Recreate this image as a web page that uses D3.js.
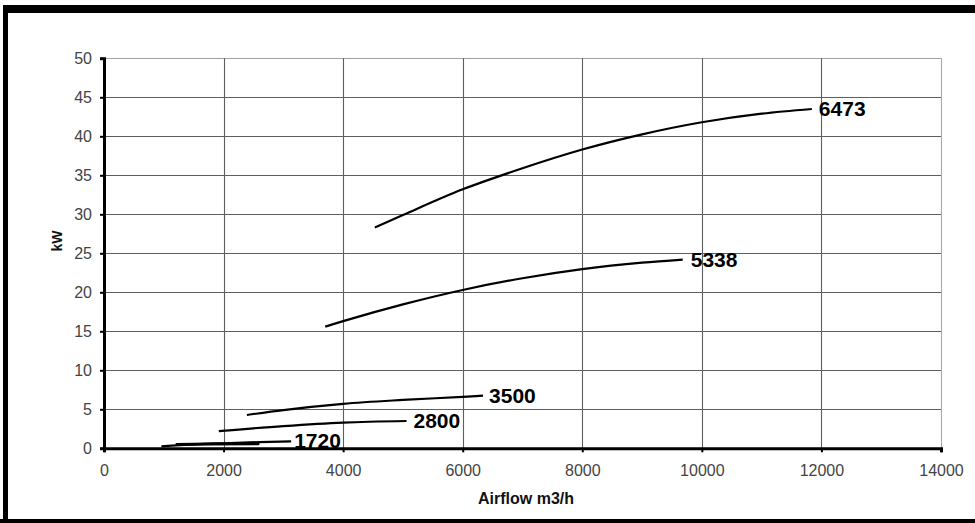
<!DOCTYPE html>
<html>
<head>
<meta charset="utf-8">
<script src="https://cdn.jsdelivr.net/npm/d3@7"></script>
<style>
  html, body { margin: 0; padding: 0; background: #fff; }
  svg { display: block; }
</style>
</head>
<body>
<svg id="chart" width="975" height="523"></svg>
<script>
// ---- data ----
const xTicks = [0, 2000, 4000, 6000, 8000, 10000, 12000, 14000];
const yTicks = [0, 5, 10, 15, 20, 25, 30, 35, 40, 45, 50];
const seriesNames = ["6473", "5338", "3500", "2800", "1720", ""];
const s6473x = [4530, 5000, 6000, 7000, 8000, 9000, 10000, 11000, 11840];
const s6473y = [28.3, 29.9, 33.2, 35.9, 38.3, 40.25, 41.8, 42.9, 43.5];
const s5338x = [3700, 4000, 5000, 6000, 7000, 8000, 9000, 9680];
const s5338y = [15.6, 16.3, 18.45, 20.3, 21.8, 22.97, 23.8, 24.2];
const s3500x = [2390, 3000, 4000, 5000, 6000, 6340];
const s3500y = [4.27, 4.9, 5.7, 6.2, 6.6, 6.75];
const s2800x = [1920, 3000, 4000, 5060];
const s2800y = [2.2, 2.85, 3.3, 3.5];
const s1720x = [960, 1500, 2000, 2600, 3130];
const s1720y = [0.25, 0.5, 0.65, 0.8, 0.9];
const sLowx = [1200, 1800, 2600];
const sLowy = [0.5, 0.55, 0.6];
const xLabel = "Airflow m3/h";
const yLabel = "kW";

const seriesX = [s6473x, s5338x, s3500x, s2800x, s1720x, sLowx];
const seriesY = [s6473y, s5338y, s3500y, s2800y, s1720y, sLowy];
const labelGap = [7, 8, 6, 7, 3, 0];

// ---- layout ----
const svg = d3.select("#chart");
const x = d3.scaleLinear().domain([0, 14000]).range([104, 941]);
const y = d3.scaleLinear().domain([0, 50]).range([448.3, 58.3]);

// frame
svg.append("rect").attr("x", 3).attr("y", 5).attr("width", 972).attr("height", 8).attr("fill", "#000");
svg.append("rect").attr("x", 3).attr("y", 5).attr("width", 5).attr("height", 518).attr("fill", "#000");
svg.append("rect").attr("x", 0).attr("y", 519).attr("width", 975).attr("height", 4).attr("fill", "#000");

// gridlines
const grid = svg.append("g");
grid.selectAll("line.h").data(yTicks.filter(d => d > 0)).join("line")
  .attr("x1", x(0)).attr("x2", x(14000))
  .attr("y1", d => Math.round(y(d)) + 0.5).attr("y2", d => Math.round(y(d)) + 0.5)
  .attr("stroke", d => d === 50 ? "#a0a0a0" : "#5e5e5e").attr("stroke-width", 1.1);
grid.selectAll("line.v").data(xTicks.filter(d => d > 0)).join("line")
  .attr("y1", y(0)).attr("y2", y(50))
  .attr("x1", d => Math.round(x(d)) + 0.5).attr("x2", d => Math.round(x(d)) + 0.5)
  .attr("stroke", d => d === 14000 ? "#a8a8a8" : "#5e5e5e").attr("stroke-width", 1.1);

// axes
const xAxis = d3.axisBottom(x).tickValues(xTicks).tickSize(4).tickPadding(12).tickFormat(d3.format("d"));
const yAxis = d3.axisLeft(y).tickValues(yTicks).tickSize(4).tickPadding(8).tickFormat(d3.format("d"));

const gx = svg.append("g").attr("transform", `translate(0,${y(0)})`).call(xAxis);
const gy = svg.append("g").attr("transform", `translate(${x(0)},0)`).call(yAxis);
[gx, gy].forEach(g => {
  g.select(".domain").attr("stroke", "#000").attr("stroke-width", 3);
  g.selectAll(".tick line").attr("stroke", "#000").attr("stroke-width", 2);
  g.selectAll(".tick text").attr("fill", "#444")
    .style("font-family", "'Liberation Sans', Arial, sans-serif").style("font-size", "16px");
});

// axis titles
svg.append("text").attr("x", 526).attr("y", 504).attr("text-anchor", "middle")
  .style("font-family", "'Liberation Sans', Arial, sans-serif").style("font-size", "16px")
  .style("font-weight", "bold").attr("fill", "#111").text(xLabel);
svg.append("text").attr("transform", "translate(62,241) rotate(-90)").attr("text-anchor", "middle")
  .style("font-family", "'Liberation Sans', Arial, sans-serif").style("font-size", "14px")
  .style("font-weight", "bold").attr("fill", "#111").text(yLabel);

// curves
const line = d3.line().x(d => x(d[0])).y(d => y(d[1])).curve(d3.curveMonotoneX);
seriesNames.forEach((name, i) => {
  const pts = seriesX[i].map((v, j) => [v, seriesY[i][j]]);
  svg.append("path").datum(pts).attr("d", line)
    .attr("fill", "none").attr("stroke", "#000").attr("stroke-width", name === "" ? 3 : 2.2);
  if (name) {
    const last = pts[pts.length - 1];
    svg.append("text").attr("x", x(last[0]) + labelGap[i]).attr("y", y(last[1])).attr("dy", "0.34em")
      .style("font-family", "'Liberation Sans', Arial, sans-serif").style("font-size", "21px")
      .style("font-weight", "bold").attr("fill", "#000").text(name);
  }
});
</script>
</body>
</html>
